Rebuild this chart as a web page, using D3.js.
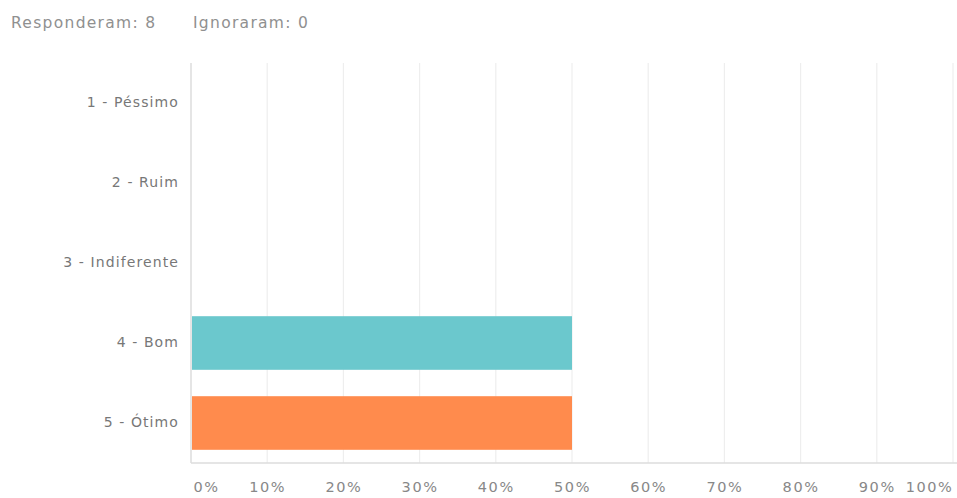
<!DOCTYPE html>
<html>
<head>
<meta charset="utf-8">
<script src="https://cdn.jsdelivr.net/npm/d3@7"></script>
<style>
  html, body { margin: 0; padding: 0; background: #fff; }
  svg { display: block; }
  text { font-family: "DejaVu Sans", "Noto Sans", sans-serif; }
</style>
</head>
<body>
<svg id="chart" width="957" height="498"></svg>
<script>
// Survey answers: share of respondents per rating
const categories = ["1 - Péssimo", "2 - Ruim", "3 - Indiferente", "4 - Bom", "5 - Ótimo"];
const shares = [0, 0, 0, 0.5, 0.5];
const barColors = ["#6bc8cd", "#6bc8cd", "#6bc8cd", "#6bc8cd", "#ff8b4d"];
const xTicks = [0, 0.1, 0.2, 0.3, 0.4, 0.5, 0.6, 0.7, 0.8, 0.9, 1.0];
const answered = 8;
const skipped = 0;

const svg = d3.select("#chart");
const plotLeft = 191, plotRight = 953, plotTop = 63, plotBottom = 463;
const FONT = '"DejaVu Sans", "Noto Sans", sans-serif';

const x = d3.scaleLinear().domain([0, 1]).range([plotLeft, plotRight]);
const y = d3.scaleBand().domain(categories).range([plotTop, plotBottom])
  .paddingInner(0.33).paddingOuter(0.165);

// Summary line
const summary = svg.append("g")
  .attr("fill", "#909090").attr("font-size", 15.5).style("letter-spacing", "1.3px");
summary.append("text").attr("x", 11).attr("y", 28).text(`Responderam: ${answered}`);
summary.append("text").attr("x", 193).attr("y", 28).text(`Ignoraram: ${skipped}`);

// Vertical gridlines
svg.append("g").selectAll("line").data(xTicks.slice(1)).join("line")
  .attr("x1", d => x(d)).attr("x2", d => x(d))
  .attr("y1", plotTop).attr("y2", plotBottom)
  .attr("stroke", "#eeeeee").attr("stroke-width", 1.2);

// Bars
svg.append("g").selectAll("rect").data(categories).join("rect")
  .attr("x", x(0) + 1)
  .attr("y", d => y(d))
  .attr("width", (d, i) => Math.max(0, x(shares[i]) - x(0) - 1))
  .attr("height", y.bandwidth())
  .attr("fill", (d, i) => barColors[i]);

// Left axis line and bottom baseline
svg.append("line").attr("x1", plotLeft).attr("x2", plotLeft)
  .attr("y1", plotTop).attr("y2", plotBottom)
  .attr("stroke", "#dcdcdc").attr("stroke-width", 1.5);
svg.append("line").attr("x1", plotLeft).attr("x2", 957)
  .attr("y1", plotBottom).attr("y2", plotBottom)
  .attr("stroke", "#dcdcdc").attr("stroke-width", 1.5);

// Category labels
const yAxis = d3.axisLeft(y).tickSize(0).tickPadding(12);
const gy = svg.append("g").attr("transform", `translate(${plotLeft},0)`).call(yAxis);
gy.select(".domain").remove();
gy.selectAll("text").attr("fill", "#777777").attr("font-size", 14)
  .style("font-family", FONT).style("letter-spacing", "1.1px");

// Percentage tick labels
const xAxis = d3.axisBottom(x).tickValues(xTicks).tickSize(0).tickPadding(19)
  .tickFormat(d3.format(".0%"));
const gx = svg.append("g").attr("transform", `translate(0,${plotBottom})`).call(xAxis);
gx.select(".domain").remove();
gx.selectAll("text").attr("fill", "#888888").attr("font-size", 14.5)
  .style("font-family", FONT).style("letter-spacing", "1.6px")
  .attr("text-anchor", (d, i) => i === 0 ? "start" : (i === xTicks.length - 1 ? "end" : "middle"))
  .attr("dx", (d, i) => i === 0 ? 2 : 0);
</script>
</body>
</html>
